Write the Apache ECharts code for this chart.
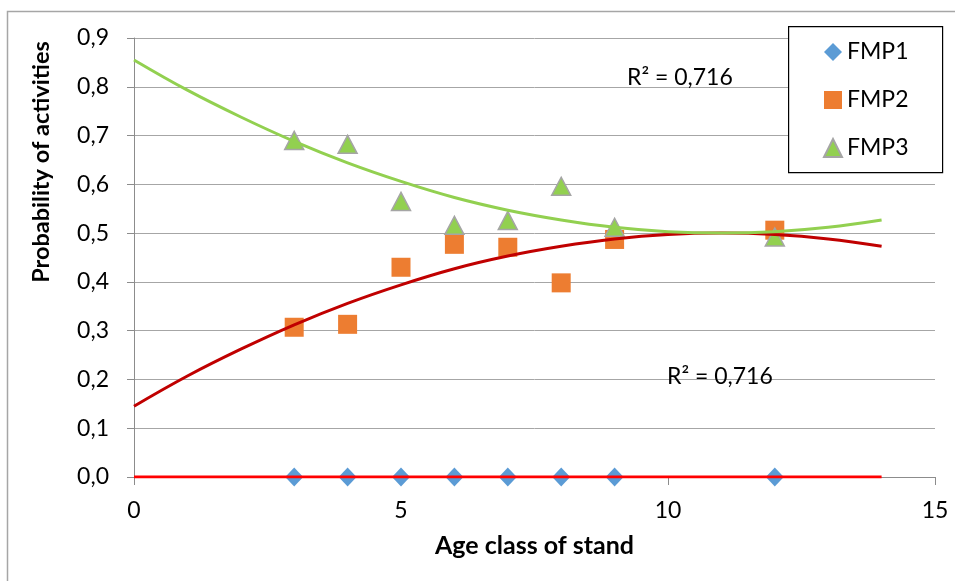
<!DOCTYPE html>
<html>
<head>
<meta charset="utf-8">
<script src="https://cdn.jsdelivr.net/npm/echarts@6/dist/echarts.min.js"></script>
<style>html,body{margin:0;padding:0;background:#fff}#c{width:955px;height:581px}</style>
</head>
<body>
<div id="c"></div>
<script>
// ---- data ----
const ageClass = [3, 4, 5, 6, 7, 8, 9, 12];
const fmp1 = [0, 0, 0, 0, 0, 0, 0, 0];
const fmp2 = [0.307, 0.313, 0.430, 0.477, 0.471, 0.398, 0.487, 0.506];
const fmp3 = [0.690, 0.682, 0.565, 0.516, 0.526, 0.596, 0.512, 0.492];
// trend lines
const trendX = [0, 1, 2, 3, 4, 5, 6, 7, 8, 9, 10, 11, 12, 13, 14];
const trendFmp2 = [0.145, 0.207, 0.262, 0.312, 0.356, 0.394, 0.427, 0.453, 0.473, 0.488, 0.497, 0.500, 0.497, 0.488, 0.473];
const trendFmp3 = [0.855, 0.793, 0.738, 0.688, 0.644, 0.606, 0.573, 0.547, 0.527, 0.512, 0.503, 0.500, 0.503, 0.512, 0.527];
const trendFmp1X = [0, 14];
const trendFmp1 = [0, 0];
const r2Label = 'R² = 0,716';

const FONT = 'Lato, "Open Sans", sans-serif';
const pair = (xs, ys) => xs.map((x, i) => [x, ys[i]]);

const chart = echarts.init(document.getElementById('c'), null, {renderer: 'canvas'});
chart.setOption({
  animation: false,
  backgroundColor: '#fff',
  grid: {left: 134, right: 20, top: 38, bottom: 104},
  xAxis: {
    type: 'value', min: 0, max: 15, interval: 5,
    name: 'Age class of stand', nameLocation: 'middle', nameGap: 56,
    nameTextStyle: {fontFamily: FONT, fontSize: 25, fontWeight: 'bold', color: '#000', verticalAlign: 'top'},
    axisLine: {show: true, onZero: false, lineStyle: {color: '#8c8c8c', width: 1}},
    axisTick: {show: true, inside: false, length: 8, lineStyle: {color: '#8c8c8c'}},
    axisLabel: {fontFamily: FONT, fontSize: 23, color: '#000', margin: 22},
    splitLine: {show: false}
  },
  yAxis: {
    type: 'value', min: 0, max: 0.9, interval: 0.1,
    axisLine: {show: true, lineStyle: {color: '#8c8c8c', width: 1}},
    axisTick: {show: true, inside: false, length: 7, lineStyle: {color: '#8c8c8c'}},
    axisLabel: {fontFamily: FONT, fontSize: 23, color: '#000', margin: 25,
      formatter: v => v.toFixed(1).replace('.', ',')},
    splitLine: {show: true, lineStyle: {color: '#a6a6a6', width: 1}}
  },
  legend: {
    data: ['FMP1', 'FMP2', 'FMP3'],
    orient: 'vertical', left: 823, top: 40, z: 20,
    itemWidth: 18, itemHeight: 18, itemGap: 24,
    textStyle: {fontFamily: FONT, fontSize: 23, color: '#000', lineHeight: 24},
    padding: 0
  },
  graphic: [
    {type: 'rect', left: 5, top: 9, shape: {width: 1200, height: 1200},
      style: {fill: 'none', stroke: '#a6a6a6', lineWidth: 1.5}, silent: true, z: -1},
    {type: 'rect', left: 788, top: 26, shape: {width: 154, height: 146},
      style: {fill: '#fff', stroke: '#000', lineWidth: 1.2}, z: 5},
    {type: 'text', x: 41, y: 162, rotation: Math.PI / 2,
      style: {text: 'Probability of activities', fontFamily: FONT, fontSize: 23.5, fontWeight: 'bold',
        fill: '#000', align: 'center', verticalAlign: 'middle'}},
    {type: 'text', x: 627, y: 78,
      style: {text: r2Label, fontFamily: FONT, fontSize: 23, fill: '#000', align: 'left', verticalAlign: 'middle'}, z: 10},
    {type: 'text', x: 667, y: 377,
      style: {text: r2Label, fontFamily: FONT, fontSize: 23, fill: '#000', align: 'left', verticalAlign: 'middle'}, z: 10}
  ],
  series: [
    {name: 'FMP1', type: 'scatter', data: pair(ageClass, fmp1), symbol: 'diamond', symbolSize: [18, 19],
      itemStyle: {color: '#5b9bd5', opacity: 1}, z: 2},
    {name: 'FMP2', type: 'scatter', data: pair(ageClass, fmp2), symbol: 'rect', symbolSize: 19,
      itemStyle: {color: '#ed7d31', opacity: 1}, z: 2},
    {name: 'FMP3', type: 'scatter', data: pair(ageClass, fmp3), symbol: 'triangle', symbolSize: [19, 18],
      itemStyle: {color: '#92d050', borderColor: '#a5a5a5', borderWidth: 1.5, opacity: 1}, z: 2},
    {name: 'trend1', type: 'line', data: pair(trendFmp1X, trendFmp1), showSymbol: false, symbol: 'none',
      lineStyle: {color: '#ff0000', width: 3}, z: 4},
    {name: 'trend2', type: 'line', data: pair(trendX, trendFmp2), showSymbol: false, symbol: 'none', smooth: 0.4,
      lineStyle: {color: '#c00000', width: 3}, z: 4},
    {name: 'trend3', type: 'line', data: pair(trendX, trendFmp3), showSymbol: false, symbol: 'none', smooth: 0.4,
      lineStyle: {color: '#92d050', width: 3}, z: 4}
  ]
});
</script>
</body>
</html>
